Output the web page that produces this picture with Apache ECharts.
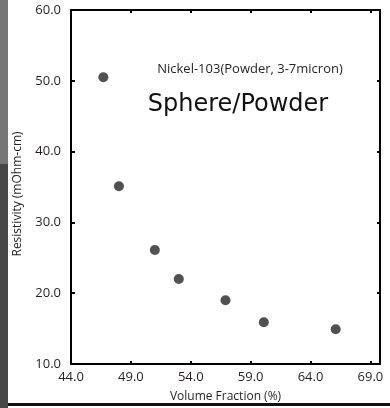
<!DOCTYPE html>
<html>
<head>
<meta charset="utf-8">
<script src="https://cdn.jsdelivr.net/npm/echarts@6/dist/echarts.min.js"></script>
<style>
  html, body { margin: 0; padding: 0; background: #fff; }
  #chart { width: 390px; height: 408px; }
</style>
</head>
<body>
<div id="chart"></div>
<script>
// Volume fraction (%) of nickel powder and measured resistivity (mOhm-cm)
const volumeFraction = [46.7, 48.0, 51.0, 53.0, 56.9, 60.1, 66.1];
const resistivity = [50.5, 35.1, 26.1, 22.0, 19.0, 15.9, 14.9];

// Axis tick positions
const xTicks = [44, 49, 54, 59, 64, 69];
const yTicks = [10, 20, 30, 40, 50, 60];

const points = volumeFraction.map((v, i) => [v, resistivity[i]]);

const FONT = '"Open Sans", "Noto Sans", sans-serif';
const INK = '#231f20';

const lineStyle = { color: '#000', width: 2 };
const tickStyle = { color: '#000', width: 2 };

const chart = echarts.init(document.getElementById('chart'), null, { renderer: 'canvas' });

chart.setOption({
  animation: false,
  backgroundColor: '#fff',
  grid: { left: 71, right: 10, top: 10, bottom: 42, containLabel: false },
  xAxis: [
    {
      type: 'value', min: 44, max: 69.8, position: 'bottom',
      name: 'Volume Fraction (%)', nameLocation: 'middle', nameGap: 27,
      nameTextStyle: { fontFamily: FONT, fontSize: 12, color: INK },
      axisLine: { show: true, onZero: false, lineStyle },
      axisTick: { show: true, inside: true, length: 3, lineStyle: tickStyle, customValues: xTicks },
      axisLabel: {
        fontFamily: FONT, fontSize: 13, color: INK, margin: 7,
        customValues: xTicks,
        formatter: v => v.toFixed(1)
      },
      splitLine: { show: false }
    },
    {
      type: 'value', min: 44, max: 69.8, position: 'top',
      axisLine: { show: true, onZero: false, lineStyle },
      axisTick: { show: true, inside: true, length: 3, lineStyle: tickStyle, customValues: xTicks },
      axisLabel: { show: false },
      splitLine: { show: false }
    }
  ],
  yAxis: [
    {
      type: 'value', min: 10, max: 60, interval: 10, position: 'left',
      axisLine: { show: true, onZero: false, lineStyle },
      axisTick: { show: true, inside: true, length: 4, lineStyle: tickStyle, customValues: yTicks },
      axisLabel: {
        fontFamily: FONT, fontSize: 13, color: INK, margin: 10,
        customValues: yTicks,
        formatter: v => v.toFixed(1)
      },
      splitLine: { show: false }
    },
    {
      type: 'value', min: 10, max: 60, interval: 10, position: 'right',
      axisLine: { show: true, onZero: false, lineStyle },
      axisTick: { show: true, inside: true, length: 3, lineStyle: tickStyle, customValues: yTicks },
      axisLabel: { show: false },
      splitLine: { show: false }
    }
  ],
  series: [
    {
      type: 'scatter',
      xAxisIndex: 0, yAxisIndex: 0,
      data: points,
      symbol: 'circle',
      symbolSize: 10,
      itemStyle: { color: '#262626' }
    }
  ],
  graphic: [
    // side band and bottom rule framing the figure
    { type: 'rect', left: 0, top: 0, shape: { width: 8, height: 164 }, style: { fill: '#767676' }, silent: true },
    { type: 'rect', left: 0, top: 164, shape: { width: 8, height: 244 }, style: { fill: '#474747' }, silent: true },
    { type: 'rect', left: 8, top: 403, shape: { width: 382, height: 3 }, style: { fill: '#111' }, silent: true },
    // y-axis title
    {
      type: 'text', x: 18, y: 194, rotation: Math.PI / 2,
      style: {
        text: 'Resistivity (mOhm-cm)',
        font: '12px ' + FONT, fill: INK,
        textAlign: 'center', textVerticalAlign: 'middle'
      }
    },
    {
      type: 'text', x: 250, y: 69,
      style: {
        text: 'Nickel-103(Powder, 3-7micron)',
        font: '13px ' + FONT, fill: INK,
        textAlign: 'center', textVerticalAlign: 'middle'
      }
    },
    {
      type: 'text', x: 238, y: 105,
      style: {
        text: 'Sphere/Powder',
        font: '24px "DejaVu Sans", Verdana, sans-serif', fill: '#111',
        textAlign: 'center', textVerticalAlign: 'middle'
      }
    }
  ]
});
</script>
</body>
</html>
